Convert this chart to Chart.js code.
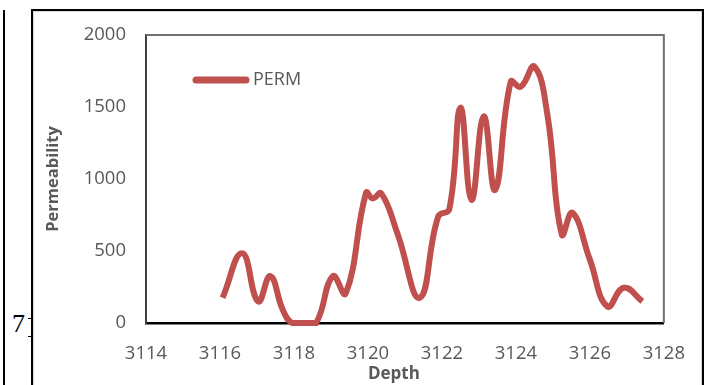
<!DOCTYPE html>
<html>
<head>
<meta charset="utf-8">
<script src="https://cdn.jsdelivr.net/npm/chart.js@4.4.0/dist/chart.umd.min.js"></script>
<style>
  body { margin: 0; background: #fff; }
  #wrap { position: relative; width: 705px; height: 385px; overflow: hidden; }
  #chart { position: absolute; left: 0; top: 0; }
  .frame { position: absolute; left: 31px; top: 9px; width: 669px; height: 400px; border: 2px solid #000; }
  .inner { position: absolute; left: 33px; top: 11px; width: 667px; height: 400px; border: 1px solid #d9d9d9; }
  .edge { position: absolute; left: 3px; top: 10px; width: 2px; height: 380px; background: #000; }
  .cell { position: absolute; left: 28px; top: 318px; width: 4px; height: 17px; border-top: 1px solid #000; border-bottom: 1px solid #000; }
  .num { position: absolute; left: 12px; top: 309px; font: 26px 'Liberation Serif', serif; color: #000; }
</style>
</head>
<body>
<div id="wrap">
  <div class="edge"></div>
  <div class="frame"></div>
  <div class="inner"></div>
  <div class="cell"></div>
  <span class="num">7</span>
  <canvas id="chart" width="705" height="385"></canvas>
</div>
<script>
// values
const depths = [3116.07, 3116.6, 3117.03, 3117.36, 3117.7, 3117.95, 3118.3, 3118.6, 3119.05, 3119.4,
                3119.95, 3120.13, 3120.36, 3120.8, 3121.4, 3121.9, 3122.2, 3122.5, 3122.8, 3123.13,
                3123.44, 3123.86, 3124.13, 3124.5, 3124.85, 3125.24, 3125.53, 3126.0, 3126.47, 3126.92, 3127.42];
const perm = [175, 485, 150, 325, 90, 0, 0, 0, 325, 205,
              905, 865, 900, 620, 175, 740, 790, 1495, 855, 1435,
              925, 1675, 1640, 1780, 1450, 615, 765, 440, 115, 245, 150];
const xTicks = [3114, 3116, 3118, 3120, 3122, 3124, 3126, 3128];
const yTicks = [0, 500, 1000, 1500, 2000];

const lineColor = '#C0504D';
const textColor = '#595959';
const fontFamily = "'Open Sans', sans-serif";

const plotFrame = {
    id: 'plotFrame',
    beforeDatasetsDraw(chart) {
        const { ctx, chartArea: a } = chart;
        ctx.save();
        ctx.strokeStyle = '#707070';
        ctx.lineWidth = 2;
        ctx.beginPath();
        ctx.moveTo(a.left, a.top);
        ctx.lineTo(a.right, a.top);
        ctx.lineTo(a.right, a.bottom);
        ctx.stroke();
        ctx.restore();
    }
};

const insideLegend = {
    id: 'insideLegend',
    afterDraw(chart) {
        const { ctx } = chart;
        const ds = chart.data.datasets[0];
        ctx.save();
        ctx.strokeStyle = ds.borderColor;
        ctx.lineWidth = 7;
        ctx.lineCap = 'round';
        ctx.beginPath();
        ctx.moveTo(196, 80);
        ctx.lineTo(246, 80);
        ctx.stroke();
        ctx.fillStyle = textColor;
        ctx.font = '18px ' + fontFamily;
        ctx.textBaseline = 'middle';
        ctx.fillText(ds.label, 253, 80);
        ctx.restore();
    }
};

new Chart(document.getElementById('chart'), {
    type: 'line',
    data: {
        datasets: [{
            label: 'PERM',
            data: depths.map((d, i) => ({ x: d, y: perm[i] })),
            borderColor: lineColor,
            borderWidth: 6,
            pointRadius: 0,
            tension: 0.45,
            fill: false,
            clip: 8
        }]
    },
    options: {
        responsive: false,
        animation: false,
        layout: { padding: { left: 33, top: 35, right: 40, bottom: 0 } },
        plugins: {
            legend: { display: false },
            tooltip: { enabled: false }
        },
        scales: {
            x: {
                type: 'linear',
                min: 3114,
                max: 3128,
                afterBuildTicks: s => { s.ticks = xTicks.map(v => ({ value: v })); },
                afterFit: s => { s.height = 62; },
                grid: { display: false, drawTicks: false },
                border: { display: true, color: '#000', width: 2.5 },
                ticks: {
                    padding: 20,
                    color: textColor,
                    font: { family: fontFamily, size: 18.5 },
                    maxRotation: 0,
                    callback: v => String(v)
                },
                title: {
                    display: true,
                    text: 'Depth     ',
                    color: textColor,
                    font: { family: fontFamily, size: 17, weight: 'bold' },
                    padding: { top: 0, bottom: 1 }
                }
            },
            y: {
                min: 0,
                max: 2000,
                afterBuildTicks: s => { s.ticks = yTicks.map(v => ({ value: v })); },
                afterFit: s => { s.width = 113; },
                grid: { display: false, drawTicks: false },
                border: { display: true, color: '#404040', width: 2 },
                ticks: {
                    padding: 20,
                    color: textColor,
                    font: { family: fontFamily, size: 18.5 },
                    callback: v => String(v)
                },
                title: {
                    display: true,
                    text: 'Permeability',
                    color: textColor,
                    font: { family: fontFamily, size: 16.5, weight: 'bold' },
                    padding: { top: 10, bottom: 0 }
                }
            }
        }
    },
    plugins: [plotFrame, insideLegend]
});
</script>
</body>
</html>
